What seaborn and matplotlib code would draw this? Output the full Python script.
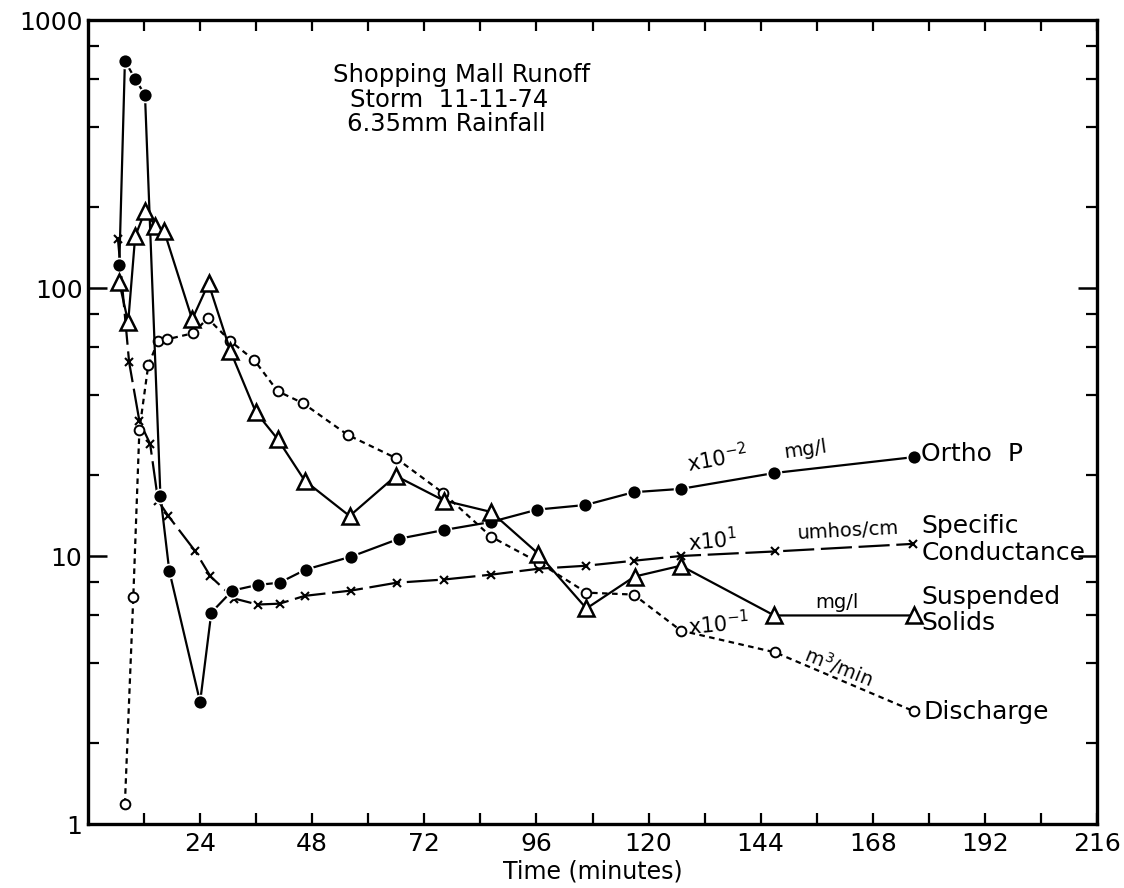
import numpy as np
import pandas as pd
import seaborn as sns
import matplotlib.pyplot as plt
from matplotlib.ticker import FixedLocator, NullFormatter

# data (time in minutes, values on log scale)
ortho_t = [6.7, 7.9, 10.1, 12.2, 15.5, 17.4, 24.0, 26.4, 30.9, 36.3, 41.0, 46.6,
           56.3, 66.6, 76.2, 86.3, 96.2, 106.5, 116.8, 126.9, 146.9, 176.9]
ortho_v = [122, 703, 603, 525, 16.8, 8.8, 2.85, 6.15, 7.43, 7.8, 7.95, 8.9,
           9.94, 11.6, 12.5, 13.4, 14.9, 15.5, 17.3, 17.8, 20.4, 23.4]

cond_t = [6.4, 8.8, 11.0, 13.3, 15.0, 17.2, 23.0, 26.2, 31.3, 36.3, 41.0, 46.4,
          56.3, 66.1, 76.2, 86.3, 96.6, 106.7, 116.8, 126.9, 147.1, 176.7]
cond_v = [153, 52.9, 31.9, 26.2, 16.1, 14.1, 10.4, 8.4, 6.94, 6.59, 6.64, 7.1,
          7.43, 7.95, 8.17, 8.52, 8.97, 9.2, 9.6, 10.0, 10.4, 11.1]

ss_t = [6.7, 8.6, 10.1, 12.2, 14.4, 16.3, 22.3, 25.8, 30.5, 35.9, 40.6, 46.4,
        56.0, 65.9, 76.2, 86.3, 96.4, 106.7, 117.0, 126.9, 146.9, 176.9]
ss_v = [105, 74.5, 156, 193, 171, 163, 76.4, 104, 58.1, 34.5, 27.3, 19.1,
        14.1, 19.9, 16.1, 14.6, 10.2, 6.37, 8.38, 9.2, 6.0, 6.0]

dis_t = [7.9, 9.7, 11.0, 12.9, 15.0, 17.0, 22.5, 25.6, 30.5, 35.6, 40.6, 46.0,
         55.6, 65.9, 76.0, 86.3, 96.6, 106.7, 116.8, 126.9, 147.1, 176.9]
dis_v = [1.19, 7.06, 29.5, 51.5, 63.3, 64.4, 67.8, 77.1, 63.3, 53.8, 41.2, 37.2,
         28.3, 23.2, 17.2, 11.8, 9.44, 7.3, 7.18, 5.27, 4.37, 2.63]

x_major = [24, 48, 72, 96, 120, 144, 168, 192, 216]
x_minor = [12, 36, 60, 84, 108, 132, 156, 180, 204]
y_major = [1, 10, 100, 1000]
y_labels = ["1", "10", "100", "1000"]

sns.set_theme(style="white")
plt.rcParams['font.family'] = ['DejaVu Sans']
for k in ("text.color", "axes.labelcolor", "xtick.color", "ytick.color"):
    plt.rcParams[k] = "black"

fig = plt.figure(figsize=(11.24, 8.88), dpi=100)
ax = fig.add_axes([88 / 1124, 64 / 888, 1009 / 1124, 804 / 888])

common = dict(ax=ax, color="black", sort=False, estimator=None, linewidth=1.6)

# ortho P - filled circles, solid
sns.lineplot(x=ortho_t, y=ortho_v, marker="o", markersize=10,
             markerfacecolor="black", markeredgecolor="white",
             markeredgewidth=1.2, linestyle="-", zorder=4, **common)
# specific conductance - x, long dashes
sns.lineplot(x=cond_t, y=cond_v, marker="x", markersize=6,
             markeredgecolor="black", markeredgewidth=1.5,
             linestyle=(0, (14, 3)), zorder=3, **common)
# suspended solids - open triangles, solid
sns.lineplot(x=ss_t, y=ss_v, marker="^", markersize=11,
             markerfacecolor="white", markeredgecolor="black",
             markeredgewidth=1.8, linestyle="-", zorder=5, **common)
# discharge - open circles, dotted
sns.lineplot(x=dis_t, y=dis_v, marker="o", markersize=7,
             markerfacecolor="white", markeredgecolor="black",
             markeredgewidth=1.4, linestyle=(0, (2.5, 2)), zorder=3, **common)

ax.set_yscale("log")
ax.set_xlim(0, 216)
ax.set_ylim(1, 1000)

ax.set_xticks(x_major)
ax.set_xticklabels([str(v) for v in x_major])
ax.xaxis.set_minor_locator(FixedLocator(x_minor))
ax.set_yticks(y_major)
ax.set_yticklabels(y_labels)
y_minor = [m * 10 ** d for d in range(3) for m in (2, 4, 6, 8)]
ax.yaxis.set_minor_locator(FixedLocator(y_minor))
ax.yaxis.set_minor_formatter(NullFormatter())

ax.tick_params(axis="x", which="both", direction="in", length=8, width=1.6,
               top=True, bottom=True, labelsize=18, pad=6)
ax.tick_params(axis="y", which="major", direction="in", length=14, width=1.8,
               left=True, right=True, labelsize=18, pad=4)
ax.tick_params(axis="y", which="minor", direction="in", length=8, width=1.6,
               left=True, right=True)
for s in ax.spines.values():
    s.set_linewidth(2.4)
    s.set_color("black")

ax.set_xlabel("Time (minutes)", fontsize=17, labelpad=2)
ax.set_ylabel("")

# title block
ax.text(52.4, 624, "Shopping Mall Runoff", fontsize=17.5, ha="left", va="center")
ax.text(56.0, 504, "Storm  11-11-74", fontsize=17.5, ha="left", va="center")
ax.text(55.4, 410, "6.35mm Rainfall", fontsize=17.5, ha="left", va="center")

# series labels at the right
ax.text(178.4, 24.0, "Ortho  P", fontsize=18, ha="left", va="center")
ax.text(178.4, 12.97, "Specific", fontsize=18, ha="left", va="center")
ax.text(178.4, 10.3, "Conductance", fontsize=18, ha="left", va="center")
ax.text(178.4, 7.06, "Suspended", fontsize=18, ha="left", va="center")
ax.text(178.4, 5.6, "Solids", fontsize=18, ha="left", va="center")
ax.text(178.9, 2.61, "Discharge", fontsize=18, ha="left", va="center")

# units and multipliers along the lines
ax.text(128.2, 22.0, "x10$^{-2}$", fontsize=15, ha="left", va="center",
        rotation=10, rotation_mode="anchor")
ax.text(149.0, 24.4, "mg/l", fontsize=14, ha="left", va="center",
        rotation=8, rotation_mode="anchor")
ax.text(128.4, 11.2, "x10$^{1}$", fontsize=15, ha="left", va="center",
        rotation=5, rotation_mode="anchor")
ax.text(151.8, 12.1, "umhos/cm", fontsize=14, ha="left", va="center",
        rotation=3, rotation_mode="anchor")
ax.text(155.7, 6.7, "mg/l", fontsize=14, ha="left", va="center")
ax.text(128.4, 5.46, "x10$^{-1}$", fontsize=15, ha="left", va="center",
        rotation=5, rotation_mode="anchor")
ax.text(153.5, 4.35, "m$^{3}$/min", fontsize=14, ha="left", va="center",
        rotation=-22, rotation_mode="anchor")

fig.savefig("out.png", dpi=100)
